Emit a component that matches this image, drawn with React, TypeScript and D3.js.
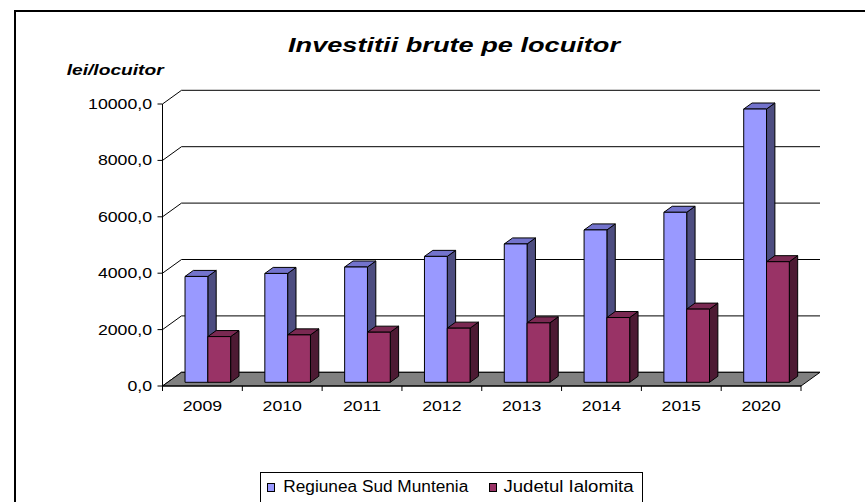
import React from "react";
import * as d3 from "d3";

const years = ["2009", "2010", "2011", "2012", "2013", "2014", "2015", "2020"];
const regiuneaSudMuntenia = [3754, 3860, 4088, 4465, 4906, 5403, 6029, 9690];
const judetulIalomita = [1621, 1681, 1777, 1920, 2108, 2297, 2595, 4277];
const yTicks = [0, 2000, 4000, 6000, 8000, 10000];
const seriesNames = ["Regiunea Sud Muntenia", "Judetul Ialomita"];
const titleText = "Investitii brute pe locuitor";
const yAxisTitle = "lei/locuitor";

const FONT = "'Liberation Sans', Arial, sans-serif";

const fmt = (v: number) => v.toFixed(1).replace(".", ",");

export default function App() {
  const W = 865;
  const H = 502;
  const x0 = 162.5;
  const x1 = 801;
  const depthX = 19;
  const depthY = -13.7;

  const x = d3.scaleBand<string>().domain(years).range([x0, x1]).padding(0);
  const y = d3.scaleLinear().domain([0, 10000]).range([386, 104]);

  const proj = (px: number, v: number, z: number): [number, number] => [
    px + depthX * z,
    y(v) + depthY * z,
  ];

  const zFront = 0.27;
  const zBack = 0.71;
  const barOffset = 17.4;
  const barW = 22.8;

  const colors = [
    { front: "#9999FF", top: "#7373CC", side: "#4D4D80" },
    { front: "#993366", top: "#7A2952", side: "#4D1A33" },
  ];

  const pts = (arr: [number, number][]) => arr.map((p) => p.join(",")).join(" ");

  const bars: React.ReactNode[] = [];
  years.forEach((yr, i) => {
    [regiuneaSudMuntenia[i], judetulIalomita[i]].forEach((v, s) => {
      const xl = (x(yr) as number) + barOffset + s * barW;
      const xr = xl + barW;
      const c = colors[s];
      const fBL = proj(xl, 0, zFront);
      const fBR = proj(xr, 0, zFront);
      const fTL = proj(xl, v, zFront);
      const fTR = proj(xr, v, zFront);
      const bTL = proj(xl, v, zBack);
      const bTR = proj(xr, v, zBack);
      const bBR = proj(xr, 0, zBack);
      bars.push(
        <g key={yr + s} stroke="#000" strokeWidth={1} strokeLinejoin="round">
          <polygon points={pts([fTR, bTR, bBR, fBR])} fill={c.side} />
          <polygon points={pts([fTL, fTR, bTR, bTL])} fill={c.top} />
          <polygon points={pts([fTL, fTR, fBR, fBL])} fill={c.front} />
        </g>
      );
    });
  });

  const floor = [proj(x0, 0, 0), proj(x1, 0, 0), proj(x1, 0, 1), proj(x0, 0, 1)];

  return (
    <svg
      width={W}
      height={H}
      style={{ position: "absolute", left: 0, top: 0, background: "#fff" }}
      fontFamily={FONT}
    >
      <rect x={0} y={0} width={W} height={H} fill="#fff" />
      <rect x={15} y={11} width={1000} height={700} fill="#fff" stroke="#000" strokeWidth={2} />

      <text
        x={454}
        y={52}
        textAnchor="middle"
        fontSize={21}
        fontWeight="bold"
        fontStyle="italic"
        textLength={332}
        lengthAdjust="spacingAndGlyphs"
      >
        {titleText}
      </text>
      <text
        x={66.7}
        y={75}
        fontSize={15}
        fontWeight="bold"
        fontStyle="italic"
        textLength={97}
        lengthAdjust="spacingAndGlyphs"
      >
        {yAxisTitle}
      </text>

      {/* gridlines: left wall diagonal + back wall */}
      {yTicks.map((t) => {
        const a = proj(x0, t, 0);
        const b = proj(x0, t, 1);
        const c = proj(x1, t, 1);
        return (
          <g key={"g" + t} stroke="#000" strokeWidth={1} fill="none">
            <line x1={a[0]} y1={a[1]} x2={b[0]} y2={b[1]} />
            <line x1={b[0]} y1={b[1]} x2={c[0]} y2={c[1]} />
          </g>
        );
      })}

      {/* floor */}
      <polygon points={pts(floor)} fill="#808080" stroke="#000" strokeWidth={1} />

      {/* y axis */}
      <line x1={x0} y1={y(10000)} x2={x0} y2={y(0)} stroke="#000" />
      {yTicks.map((t) => (
        <g key={"yt" + t}>
          <line x1={x0 - 5} y1={y(t)} x2={x0} y2={y(t)} stroke="#000" />
          <text
            transform={`translate(152,${y(t) + 5}) scale(1.18,1)`}
            textAnchor="end"
            fontSize={15}
          >
            {fmt(t)}
          </text>
        </g>
      ))}

      {/* x axis */}
      <line x1={x0} y1={y(0)} x2={x1} y2={y(0)} stroke="#000" />
      {[...years.map((yr) => x(yr) as number), x1].map((px, i) => (
        <line key={"xt" + i} x1={px} y1={y(0)} x2={px} y2={y(0) + 5} stroke="#000" />
      ))}
      {years.map((yr) => (
        <text
          key={"xl" + yr}
          transform={`translate(${(x(yr) as number) + x.bandwidth() / 2},411) scale(1.18,1)`}
          textAnchor="middle"
          fontSize={15}
        >
          {yr}
        </text>
      ))}

      {bars}

      {/* legend */}
      <rect x={260.5} y={472.5} width={382} height={40} fill="#fff" stroke="#000" strokeWidth={1} />
      <rect x={267.5} y={483.5} width={7} height={8} fill={colors[0].front} stroke="#000" />
      <text x={283.3} y={491.7} fontSize={16} textLength={185} lengthAdjust="spacingAndGlyphs">
        {seriesNames[0]}
      </text>
      <rect x={489.5} y={483.5} width={7} height={8} fill={colors[1].front} stroke="#000" />
      <text x={503.5} y={491.7} fontSize={16} textLength={130} lengthAdjust="spacingAndGlyphs">
        {seriesNames[1]}
      </text>
    </svg>
  );
}
